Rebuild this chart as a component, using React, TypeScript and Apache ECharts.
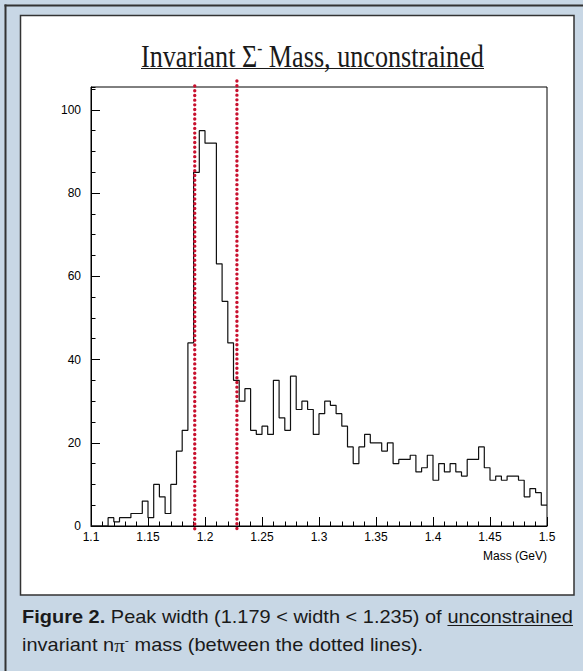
import React, { useEffect, useRef } from 'react';
import * as echarts from 'echarts';

// ---- data ----
const binStart = 1.1;
const binWidth = 0.005;
const counts = [
  0, 0, 0, 2, 1, 2, 2, 3, 3, 6,
  2, 10, 7, 3, 10, 18, 23, 44, 85, 95,
  92, 92, 63, 54, 44, 35, 30, 33, 23, 22,
  24, 22, 35, 26, 23, 36, 28, 30, 28, 22,
  27, 30, 29, 27, 24, 19, 15, 19, 22, 20,
  20, 18, 20, 15, 16, 16, 17, 13, 14, 17,
  11, 15, 13, 15, 13, 12, 16, 16, 19, 14,
  11, 12, 11, 12, 12, 11, 7, 9, 8, 5,
];
const cutLines = [1.191, 1.228];
const titleParts = ['Invariant \u03A3', '-', ' Mass, unconstrained'];
const xAxisName = 'Mass (GeV)';
const captionLine1 = ['Figure 2.', ' Peak width (1.179 < width < 1.235) of ', 'unconstrained'];
const captionLine2 = ['invariant n', '\u03C0', '-', ' mass (between the dotted lines).'];

const W = 583;
const H = 671;
const SANS = '"Liberation Sans", Arial, Helvetica, sans-serif';
const SERIF = '"Liberation Serif", "Times New Roman", serif';

let ctx: CanvasRenderingContext2D | null = null;
function measure(text: string, size: number, family: string, weight = 'normal') {
  if (!ctx) ctx = document.createElement('canvas').getContext('2d');
  ctx!.font = `${weight} ${size}px ${family}`;
  return ctx!.measureText(text).width;
}

type Piece = { text: string; size: number; family: string; weight?: string; dy?: number; underline?: boolean };

function buildLine(id: string, pieces: Piece[], x0: number, baseline: number, targetWidth: number | null, scaleOverride?: number) {
  let cx = 0;
  const children: any[] = [];
  const underlines: [number, number][] = [];
  pieces.forEach((p, i) => {
    const w = measure(p.text, p.size, p.family, p.weight || 'normal');
    const mid = baseline - (p.family === SERIF ? 0.3375 : 0.3465) * p.size + (p.dy || 0);
    children.push({
      type: 'text',
      id: `${id}-t${i}`,
      x: cx,
      y: mid,
      style: {
        text: p.text,
        font: `${p.weight || 'normal'} ${p.size}px ${p.family}`,
        fill: '#1a1a1a',
        textAlign: 'left',
        textVerticalAlign: 'middle',
        align: 'left',
        verticalAlign: 'middle',
      },
    });
    if (p.underline) underlines.push([cx, cx + w]);
    cx += w;
  });
  const scale = scaleOverride ?? (targetWidth ? targetWidth / cx : 1);
  underlines.forEach(([a, b], k) => {
    children.push({
      type: 'line',
      id: `${id}-u${k}`,
      shape: { x1: a, y1: baseline + 2.5, x2: b, y2: baseline + 2.5 },
      style: { stroke: '#1a1a1a', lineWidth: 1.2 },
    });
  });
  return { group: { type: 'group', id, x: x0, y: 0, scaleX: scale, scaleY: 1, children }, scale };
}

export default function App() {
  const ref = useRef<HTMLDivElement>(null);
  useEffect(() => {
    const el = ref.current!;
    const chart = echarts.init(el, null, { renderer: 'svg', width: W, height: H });

    const histData: number[][] = counts.map((c, i) => [+(binStart + i * binWidth).toFixed(4), c]);
    histData.push([+(binStart + counts.length * binWidth).toFixed(4), counts[counts.length - 1]]);

    const yMax = 105.5;
    const base: any = {
      animation: false,
      backgroundColor: '#c8d7e5',
      grid: { left: 91, right: 36, top: 87, bottom: 145, show: true, borderColor: '#000', borderWidth: 1, backgroundColor: 'transparent', z: 3 },
      xAxis: {
        type: 'value',
        min: 1.1,
        max: 1.5,
        interval: 0.05,
        axisLine: { show: true, onZero: false, lineStyle: { color: '#000', width: 1 } },
        axisTick: { show: true, inside: true, length: 9, lineStyle: { color: '#000', width: 1 } },
        minorTick: { show: true, splitNumber: 5, length: 4.5, lineStyle: { color: '#000', width: 1 } },
        splitLine: { show: false },
        axisLabel: {
          color: '#000', fontFamily: SANS, fontSize: 12, margin: 5,
          formatter: (v: number) => String(+v.toFixed(2)),
        },
        name: xAxisName,
        nameLocation: 'end',
        nameGap: 0,
        nameTextStyle: { color: '#000', fontFamily: SANS, fontSize: 12, align: 'right', verticalAlign: 'top', padding: [24, 0, 0, 0] },
      },
      yAxis: [
        {
          type: 'value', min: 0, max: yMax, interval: 20,
          axisLine: { show: true, lineStyle: { color: '#000', width: 1 } },
          axisTick: { show: true, inside: true, length: 9, lineStyle: { color: '#000', width: 1 } },
          splitLine: { show: false },
          axisLabel: { color: '#000', fontFamily: SANS, fontSize: 12, margin: 10, showMaxLabel: false },
        },
        {
          type: 'value', min: 0, max: yMax, interval: 5, position: 'left',
          axisLine: { show: false },
          axisTick: { show: true, inside: true, length: 4.5, lineStyle: { color: '#000', width: 1 } },
          splitLine: { show: false },
          axisLabel: { show: false },
        },
      ],
      series: [
        {
          type: 'line',
          data: histData,
          step: 'end',
          showSymbol: false,
          symbol: 'none',
          clip: false,
          lineStyle: { color: '#111', width: 1.2 },
          z: 4,
        },
      ],
    };
    chart.setOption(base);

    const graphics: any[] = [];
    graphics.push({ type: 'rect', id: 'panel', z: -100, shape: { x: 20.5, y: 15.5, width: 553.5, height: 579.5 }, style: { fill: '#ffffff', stroke: '#333', lineWidth: 1.5 } });
    graphics.push({ type: 'line', id: 'ob-top', z: -100, shape: { x1: 4.5, y1: 5.5, x2: W, y2: 5.5 }, style: { stroke: '#333', lineWidth: 2 } });
    graphics.push({ type: 'line', id: 'ob-left', z: -100, shape: { x1: 5.5, y1: 4.5, x2: 5.5, y2: H }, style: { stroke: '#333', lineWidth: 2 } });

    // dotted cut lines
    const yTop = chart.convertToPixel({ yAxisIndex: 0 }, yMax) as number;
    const yBot = chart.convertToPixel({ yAxisIndex: 0 }, 0) as number;
    cutLines.forEach((v, i) => {
      const px = chart.convertToPixel({ xAxisIndex: 0 }, v) as number;
      graphics.push({
        type: 'line', id: `cut${i}`, z: 50,
        shape: { x1: px, y1: yTop - (i === 0 ? 1 : 6), x2: px, y2: yBot + 7 },
        style: { stroke: '#c8102e', lineWidth: 3.4, lineDash: [0.01, 4.7], lineCap: 'round' },
      });
    });

    // title
    const tSize = 31;
    const title = buildLine('title', [
      { text: titleParts[0], size: tSize, family: SERIF },
      { text: titleParts[1], size: 18, family: SERIF, dy: -12 },
      { text: titleParts[2], size: tSize, family: SERIF },
    ], 141, 66.5, 343);
    graphics.push(title.group);
    graphics.push({ type: 'line', id: 'title-ul', shape: { x1: 141, y1: 68.5, x2: 484, y2: 68.5 }, style: { stroke: '#1a1a1a', lineWidth: 1.2 } });

    // caption
    const cSize = 17.5;
    const cap1 = buildLine('cap1', [
      { text: captionLine1[0], size: cSize, family: SANS, weight: 'bold' },
      { text: captionLine1[1], size: cSize, family: SANS },
      { text: captionLine1[2], size: cSize, family: SANS, underline: true },
    ], 22, 623, 551);
    graphics.push(cap1.group);
    const cap2 = buildLine('cap2', [
      { text: captionLine2[0], size: cSize, family: SANS },
      { text: captionLine2[1], size: cSize + 1, family: SERIF },
      { text: captionLine2[2], size: 11, family: SANS, dy: -7 },
      { text: captionLine2[3], size: cSize, family: SANS },
    ], 22, 651.5, null, cap1.scale);
    graphics.push(cap2.group);

    chart.setOption({ graphic: graphics });
    return () => chart.dispose();
  }, []);
  return <div ref={ref} style={{ position: 'absolute', left: 0, top: 0, width: W, height: H }} />;
}
